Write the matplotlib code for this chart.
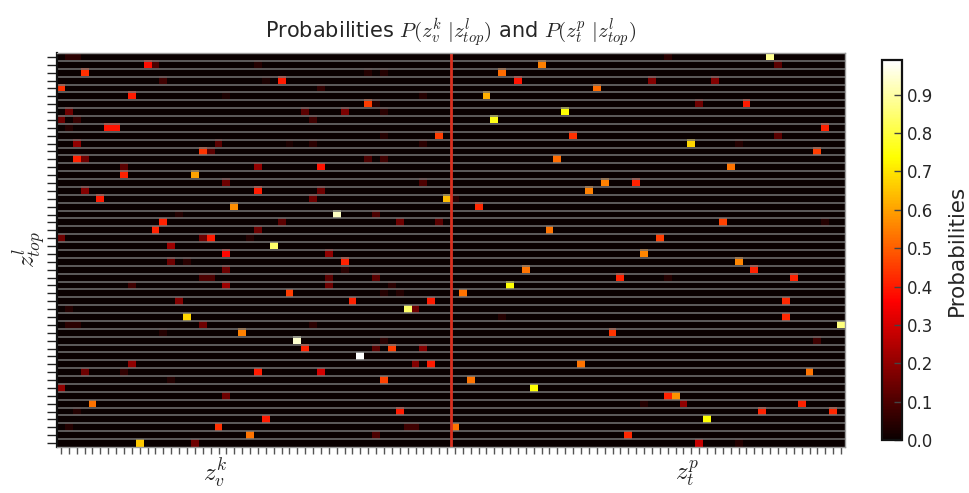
import numpy as np
import matplotlib
matplotlib.use("Agg")
import matplotlib.pyplot as plt
from matplotlib import transforms

plt.rcParams['mathtext.fontset'] = 'cm'
plt.rcParams['font.family'] = ['DejaVu Sans']

n_rows = 50          # z_top^l
n_visual = 50        # z_v^k
n_text = 50          # z_t^p

# (row, column within z_v block, probability)
visual_cells = [
    (0, 1, 0.05), (0, 2, 0.05),
    (1, 11, 0.38), (1, 12, 0.10), (1, 25, 0.04),
    (2, 3, 0.43), (2, 39, 0.04), (2, 41, 0.04),
    (3, 28, 0.40), (3, 13, 0.08), (3, 26, 0.03),
    (4, 0, 0.43), (4, 33, 0.06),
    (5, 9, 0.40), (5, 46, 0.04), (5, 21, 0.03),
    (6, 39, 0.45), (6, 40, 0.04),
    (7, 1, 0.15), (7, 36, 0.17), (7, 31, 0.12), (7, 41, 0.05),
    (8, 0, 0.15), (8, 2, 0.07), (8, 32, 0.08),
    (9, 6, 0.39), (9, 7, 0.39), (9, 1, 0.04),
    (10, 48, 0.45), (10, 41, 0.04),
    (11, 2, 0.20), (11, 20, 0.12), (11, 46, 0.05), (11, 29, 0.03), (11, 32, 0.05),
    (12, 18, 0.44), (12, 19, 0.12),
    (13, 2, 0.41), (13, 3, 0.15), (13, 39, 0.10), (13, 41, 0.08),
    (14, 8, 0.12), (14, 25, 0.20), (14, 33, 0.39),
    (15, 8, 0.41), (15, 17, 0.60),
    (16, 21, 0.15), (16, 46, 0.10),
    (17, 3, 0.18), (17, 25, 0.40), (17, 33, 0.15),
    (18, 5, 0.40), (18, 32, 0.15), (18, 49, 0.64),
    (19, 22, 0.57),
    (20, 15, 0.04), (20, 35, 0.93), (20, 40, 0.10),
    (21, 13, 0.41), (21, 28, 0.12), (21, 43, 0.15), (21, 48, 0.12),
    (22, 12, 0.41), (22, 25, 0.15),
    (23, 0, 0.15), (23, 18, 0.15), (23, 19, 0.40), (23, 24, 0.04),
    (24, 14, 0.22), (24, 27, 0.84),
    (25, 21, 0.37), (25, 34, 0.20),
    (26, 14, 0.15), (26, 16, 0.05), (26, 36, 0.41),
    (27, 21, 0.15), (27, 36, 0.05),
    (28, 18, 0.10), (28, 19, 0.10), (28, 34, 0.12), (28, 40, 0.12),
    (29, 9, 0.08), (29, 21, 0.22), (29, 34, 0.15), (29, 42, 0.05),
    (30, 29, 0.45), (30, 41, 0.04), (30, 43, 0.04),
    (31, 15, 0.18), (31, 37, 0.41), (31, 47, 0.40),
    (32, 1, 0.04), (32, 44, 0.84), (32, 45, 0.15),
    (33, 16, 0.68),
    (34, 1, 0.05), (34, 2, 0.05), (34, 18, 0.15), (34, 32, 0.05),
    (35, 23, 0.55), (35, 13, 0.04),
    (36, 30, 0.94), (36, 41, 0.05),
    (37, 31, 0.41), (37, 40, 0.12), (37, 42, 0.45), (37, 46, 0.18),
    (38, 38, 0.99),
    (39, 9, 0.20), (39, 45, 0.18), (39, 47, 0.40),
    (40, 3, 0.15), (40, 8, 0.06), (40, 25, 0.40), (40, 33, 0.30),
    (41, 14, 0.04), (41, 41, 0.46),
    (42, 0, 0.20),
    (43, 21, 0.15),
    (44, 4, 0.53),
    (45, 43, 0.40), (45, 2, 0.04),
    (46, 26, 0.40),
    (47, 20, 0.43), (47, 1, 0.04), (47, 44, 0.08), (47, 45, 0.08),
    (48, 24, 0.53), (48, 40, 0.10),
    (49, 10, 0.66), (49, 17, 0.15),
]

# (row, column within z_t block, probability)
text_cells = [
    (0, 40, 0.88), (0, 27, 0.05),
    (1, 11, 0.55), (1, 41, 0.12),
    (2, 6, 0.52),
    (3, 8, 0.39), (3, 25, 0.18), (3, 33, 0.18),
    (4, 18, 0.52),
    (5, 4, 0.62),
    (6, 31, 0.15), (6, 37, 0.40),
    (7, 14, 0.74),
    (8, 5, 0.76),
    (9, 47, 0.41),
    (10, 15, 0.43), (10, 41, 0.12),
    (11, 30, 0.68), (11, 36, 0.04),
    (12, 46, 0.45),
    (13, 13, 0.52),
    (14, 35, 0.53),
    (16, 19, 0.55), (16, 23, 0.41),
    (17, 17, 0.55),
    (18, 0, 0.05),
    (19, 3, 0.42),
    (21, 34, 0.46), (21, 47, 0.04),
    (22, 12, 0.53),
    (23, 26, 0.45),
    (25, 24, 0.56),
    (26, 36, 0.56),
    (27, 9, 0.53), (27, 38, 0.41),
    (28, 21, 0.41), (28, 43, 0.41), (28, 27, 0.04),
    (29, 7, 0.74),
    (30, 1, 0.53),
    (31, 42, 0.42),
    (33, 6, 0.04), (33, 42, 0.42),
    (34, 49, 0.86),
    (35, 20, 0.44),
    (36, 46, 0.08),
    (39, 16, 0.53),
    (40, 45, 0.53),
    (41, 2, 0.53),
    (42, 10, 0.74),
    (43, 27, 0.41), (43, 28, 0.58),
    (44, 29, 0.20), (44, 44, 0.41), (44, 24, 0.04),
    (45, 39, 0.41), (45, 48, 0.42),
    (46, 32, 0.74),
    (47, 0, 0.53),
    (48, 22, 0.42),
    (49, 31, 0.28), (49, 36, 0.04),
]

title = r"Probabilities $P(z_v^k\ |z_{top}^l)$ and $P(z_t^p\ |z_{top}^l)$"
xlabel_visual = r"$z_v^k$"
xlabel_text = r"$z_t^p$"
ylabel = r"$z_{top}^l$"
cbar_label = "Probabilities"
cbar_ticks = [0.0, 0.1, 0.2, 0.3, 0.4, 0.5, 0.6, 0.7, 0.8, 0.9]

# ---- build the matrix ----
P = np.zeros((n_rows, n_visual + n_text))
for r, c, v in visual_cells:
    P[r, c] = v
for r, c, v in text_cells:
    P[r, n_visual + c] = v

fig = plt.figure(figsize=(9.69, 4.93), dpi=100)
ax = fig.add_axes([0.0588, 0.0933, 0.8132, 0.7992])
im = ax.imshow(P, cmap='hot', aspect='auto', interpolation='nearest')

# horizontal separators between rows
ax.hlines(np.arange(n_rows - 1) + 0.5, -0.5, n_visual + n_text - 0.5,
          colors='#747474', linewidth=1.1)
# separator between the two blocks
ax.axvline(n_visual - 0.5, color='#d9301f', linewidth=2)

ax.set_xlim(-0.5, n_visual + n_text - 0.5)
ax.set_ylim(n_rows - 0.5, -0.5)
ax.set_xticks(np.arange(n_visual + n_text))
ax.set_yticks(np.arange(n_rows))
ax.set_xticklabels([])
ax.set_yticklabels([])
ax.tick_params(axis='x', direction='out', length=5, width=1, color='#555555',
               top=False)
ax.tick_params(axis='y', direction='out', length=7, width=1, color='#222222',
               right=False)
for side in ['top', 'right', 'bottom']:
    ax.spines[side].set_color('#9a9a9a')
    ax.spines[side].set_linewidth(1)
ax.spines['left'].set_color('#111111')
ax.spines['left'].set_linewidth(1.6)

ax.set_title(title, fontsize=15, color='#262626', pad=11)

trans = transforms.blended_transform_factory(ax.transData, ax.transAxes)
ax.text(19.5, -0.068, xlabel_visual, transform=trans, ha='center',
        va='center', fontsize=18, color='#262626')
ax.text(79.5, -0.068, xlabel_text, transform=trans, ha='center',
        va='center', fontsize=18, color='#262626')
ax.set_ylabel(ylabel, fontsize=18, color='#262626', labelpad=-5)

cax = fig.add_axes([0.910, 0.1075, 0.0206, 0.7705])
cb = fig.colorbar(im, cax=cax, ticks=cbar_ticks)
cb.ax.set_yticklabels([f"{t:.1f}" for t in cbar_ticks])
cb.ax.tick_params(direction='in', length=6, width=1, color='#444444',
                  labelsize=12, labelcolor='#262626')
cb.outline.set_linewidth(1.6)
cb.outline.set_edgecolor('#111111')
cb.set_label(cbar_label, fontsize=15.5, color='#262626', labelpad=10)

fig.savefig("out.png", dpi=100)
